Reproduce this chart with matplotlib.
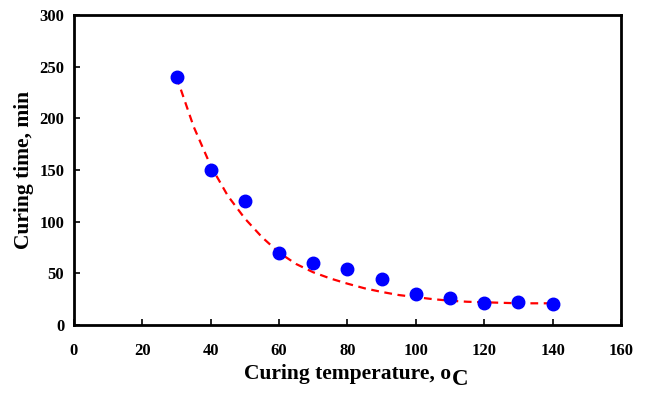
import numpy as np
import matplotlib
matplotlib.use("Agg")
import matplotlib.pyplot as plt

# measured data
temp = [30, 40, 50, 60, 70, 80, 90, 100, 110, 120, 130, 140]
time_min = [240, 150, 120, 70, 60, 54, 45, 30, 26, 21, 22, 20]

# fitted curve
fit_x = [30, 35, 40, 45, 50, 55, 60, 65, 70, 75, 80, 85, 90, 95, 100,
         105, 110, 115, 120, 125, 130, 135, 140]
fit_y = [240, 192, 154, 125, 103, 85, 70, 59, 51, 45, 40, 35.5, 32, 29, 27,
         25, 23.5, 22.5, 22, 21.5, 21, 21, 21]

plt.rcParams['font.family'] = ['Liberation Serif', 'DejaVu Serif']
plt.rcParams['font.weight'] = 'bold'

fig = plt.figure(figsize=(6.45, 3.96), dpi=100)
ax = fig.add_axes([0.1147, 0.1793, 0.8481, 0.7827])

ax.plot(fit_x, fit_y, color='#ff0000', linestyle=(0, (3.5, 2.5)), linewidth=1.6, zorder=2)
ax.plot(temp, time_min, 'o', color='#0000ff', markersize=9, zorder=3)

ax.set_xlim(0, 160)
ax.set_ylim(0, 300)
ax.set_xticks(np.arange(0, 161, 20))
ax.set_yticks(np.arange(0, 301, 50))

for s in ax.spines.values():
    s.set_linewidth(2)
ax.tick_params(direction='in', length=4, width=1.2, labelsize=12)
ax.tick_params(axis='x', pad=13)
ax.tick_params(axis='y', pad=7)
for lab in ax.get_xticklabels() + ax.get_yticklabels():
    lab.set_fontweight('bold')

ax.set_ylabel('Curing time, min', fontsize=15.5, fontweight='bold', labelpad=3.5)
xl = ax.set_xlabel('Curing temperature, o', fontsize=15.5, fontweight='bold', labelpad=3.5)

fig.canvas.draw()
bb = xl.get_window_extent()
fig.text((bb.x1 + 0.5) / fig.bbox.width, (bb.y0 - 6) / fig.bbox.height, 'C',
         fontsize=16.5, fontweight='bold', ha='left', va='bottom')

fig.savefig('out.png', dpi=100)
